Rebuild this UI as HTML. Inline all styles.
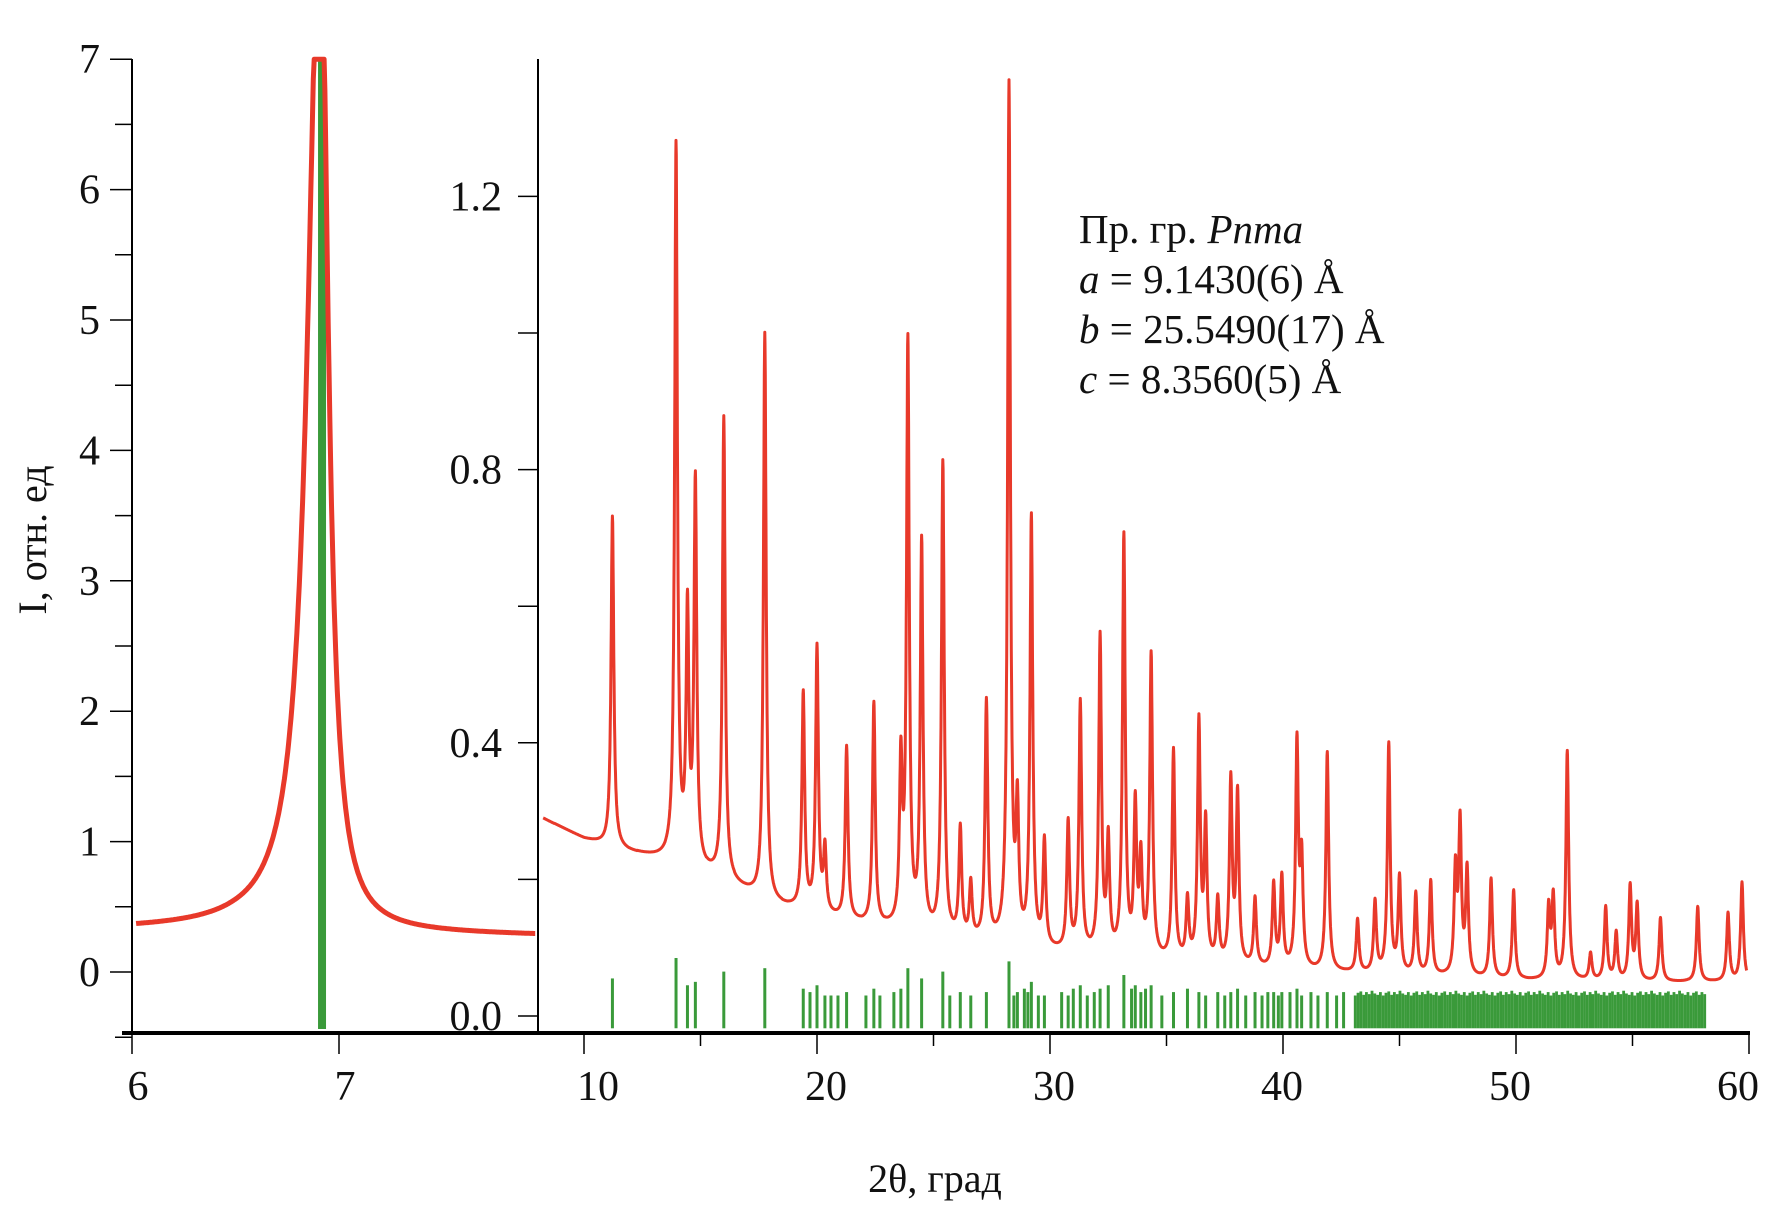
<!DOCTYPE html>
<html><head><meta charset="utf-8"><style>
html,body{margin:0;padding:0;background:#fff}
svg{display:block}
text{font-family:"Liberation Serif",serif;fill:#111}
</style></head><body>
<svg id="c" width="1775" height="1210" viewBox="0 0 1775 1210" xmlns="http://www.w3.org/2000/svg">
<g id="axes"></g>
<g id="plots"></g>
<text x="1079" y="243" font-size="41">Пр. гр. <tspan font-style="italic">Pnma</tspan></text>
<text x="1079" y="293" font-size="41"><tspan font-style="italic">a</tspan> = 9.1430(6) Å</text>
<text x="1079" y="343" font-size="41"><tspan font-style="italic">b</tspan> = 25.5490(17) Å</text>
<text x="1079" y="393" font-size="41"><tspan font-style="italic">c</tspan> = 8.3560(5) Å</text>
<text x="935" y="1192" font-size="40" text-anchor="middle">2θ, град</text>
<text transform="translate(46,540) rotate(-90)" font-size="40" text-anchor="middle">I, отн. ед</text>
</svg>
<script>
// ---- left panel data ----
const leftTicks = [0,1,2,3,4,5,6,7];
const leftXTicks = [6,7];
const leftPeakCenter = [6.91];
const leftPeakAmp = [8.0];
const leftBgX = [6.02,6.5,7.0,7.5,7.95];
const leftBgY = [0.32,0.32,0.30,0.29,0.28];
const leftRefPos = [6.918];
// ---- right panel data ----
const rightTicks = [0.0,0.4,0.8,1.2];
const rightXTicks = [10,20,30,40,50,60];
const bgX = [8.25,10,12,14,16,18,20,22,26,30,35,40,45,50,55,60];
const bgY = [0.29,0.26,0.24,0.225,0.2,0.165,0.15,0.135,0.112,0.095,0.08,0.068,0.06,0.053,0.05,0.05];
const peakPos = [11.22,13.95,14.44,14.78,16.0,17.76,19.41,20.0,20.34,21.27,22.44,23.6,23.9,24.49,25.4,26.15,26.6,27.27,28.24,28.6,29.2,29.76,30.78,31.3,32.15,32.5,33.17,33.66,33.9,34.34,35.3,35.9,36.39,36.68,37.2,37.76,38.05,38.8,39.6,39.95,40.6,40.8,41.9,43.2,43.95,44.54,45.0,45.7,46.34,47.4,47.6,47.9,48.93,49.9,51.4,51.6,52.2,53.2,53.85,54.3,54.9,55.2,56.2,57.8,59.1,59.7];
const peakTop = [0.732,1.27,0.58,0.774,0.874,0.999,0.47,0.536,0.24,0.393,0.456,0.36,0.977,0.686,0.807,0.27,0.19,0.456,1.358,0.29,0.724,0.25,0.28,0.456,0.55,0.25,0.697,0.30,0.22,0.524,0.386,0.166,0.426,0.276,0.166,0.34,0.32,0.17,0.19,0.2,0.396,0.22,0.385,0.14,0.166,0.396,0.2,0.178,0.196,0.208,0.276,0.21,0.2,0.183,0.155,0.17,0.386,0.09,0.158,0.12,0.188,0.16,0.143,0.16,0.15,0.195];
const refPos = [11.22,13.95,14.44,14.78,16.0,17.76,19.41,19.7,20.0,20.34,20.6,20.9,21.27,22.1,22.44,22.7,23.3,23.6,23.9,24.49,25.4,25.7,26.15,26.6,27.27,28.24,28.45,28.6,28.9,29.05,29.2,29.5,29.76,30.5,30.78,31.0,31.3,31.6,31.9,32.15,32.5,33.17,33.5,33.66,33.9,34.1,34.34,34.8,35.3,35.9,36.39,36.68,37.2,37.5,37.76,38.05,38.4,38.8,39.1,39.35,39.6,39.8,39.95,40.3,40.6,40.8,41.2,41.5,41.9,42.3,42.6];
const refTop = [0.055,0.085,0.045,0.05,0.065,0.07,0.04,0.035,0.045,0.03,0.03,0.03,0.035,0.03,0.04,0.03,0.035,0.04,0.07,0.055,0.065,0.03,0.035,0.03,0.035,0.08,0.03,0.035,0.04,0.035,0.05,0.03,0.03,0.035,0.03,0.04,0.045,0.03,0.035,0.04,0.045,0.06,0.04,0.045,0.035,0.04,0.045,0.03,0.035,0.04,0.035,0.03,0.035,0.03,0.035,0.04,0.03,0.035,0.03,0.035,0.035,0.03,0.035,0.035,0.04,0.03,0.035,0.03,0.035,0.03,0.035];
const denseStart = 43.1, denseEnd = 58.1; // dense reflection region (2θ)
const denseTop = [0.03,0.034,0.036,0.031,0.035,0.032,0.037,0.033,0.031,0.035];

const NS='http://www.w3.org/2000/svg';
const axes=document.getElementById('axes'), plots=document.getElementById('plots');
function mk(tag,attrs,parent){const e=document.createElementNS(NS,tag);for(const k in attrs)e.setAttribute(k,attrs[k]);parent.appendChild(e);return e;}
function interp(xs,ys,x){if(x<=xs[0])return ys[0];for(let i=1;i<xs.length;i++){if(x<=xs[i]){const t=(x-xs[i-1])/(xs[i]-xs[i-1]);return ys[i-1]+t*(ys[i]-ys[i-1]);}}return ys[ys.length-1];}

const lx=v=>132+(v-6)*207, ly=v=>972-v*130.4;
const rx=v=>584+(v-10)*23.3, ry=v=>1016-v*683;

let e;
e=mk('line',{x1:132,y1:59,x2:132,y2:1035,stroke:'#000','stroke-width':2},axes);

e=mk('line',{x1:538,y1:59,x2:538,y2:1033,stroke:'#000','stroke-width':2},axes);

e=mk('line',{x1:122,y1:1033,x2:1750,y2:1033,stroke:'#000','stroke-width':4},axes);


for(let v=-0.5;v<=7.001;v+=0.5){const y=ly(v);const major=Math.abs(v-Math.round(v))<1e-6;
 e=mk('line',{x1:major?110:115,y1:y,x2:132,y2:y,stroke:'#000','stroke-width':1.5},axes);
 }
leftTicks.forEach(v=>{e=mk('text',{x:100,y:ly(v)+14,'font-size':42,'text-anchor':'end'},axes);e.textContent=String(v);
 });
for(let v=0;v<=1.2001;v+=0.2){const y=ry(v);
 e=mk('line',{x1:518,y1:y,x2:538,y2:y,stroke:'#000','stroke-width':1.5},axes);
 }
rightTicks.forEach(v=>{e=mk('text',{x:502,y:ry(v)+14,'font-size':42,'text-anchor':'end'},axes);e.textContent=v.toFixed(1);
 });
leftXTicks.forEach(v=>{const x=lx(v);
 e=mk('line',{x1:x,y1:1033,x2:x,y2:1054,stroke:'#000','stroke-width':1.5},axes);
 
 e=mk('text',{x:x+6,y:1100,'font-size':42,'text-anchor':'middle'},axes);e.textContent=String(v);
 });
rightXTicks.forEach((v,i)=>{const x=rx(v);
 e=mk('line',{x1:x,y1:1033,x2:x,y2:1054,stroke:'#000','stroke-width':1.5},axes);
 
 e=mk('text',{x:x+14-i*5,y:1100,'font-size':42,'text-anchor':'middle'},axes);e.textContent=String(v);
 
 if(v<60){const xm=rx(v+5);
 e=mk('line',{x1:xm,y1:1033,x2:xm,y2:1046,stroke:'#000','stroke-width':1.5},axes);
 }});

let d='';
for(let x=6.02;x<=7.95;x+=0.004){let v=interp(leftBgX,leftBgY,x);
 leftPeakCenter.forEach((c,i)=>{const g=x<c?0.072:0.045;v+=leftPeakAmp[i]/(1+((x-c)/g)**2);});
 v=Math.min(v,7);d+=(d?'L':'M')+lx(x).toFixed(1)+','+ly(v).toFixed(1);}
leftRefPos.forEach(p=>{e=mk('line',{x1:lx(p),y1:ly(7),x2:lx(p),y2:1029,stroke:'#3a9a3a','stroke-width':8},plots);
 });
e=mk('path',{d:d,fill:'none',stroke:'#e8392a','stroke-width':5,'stroke-linejoin':'round'},plots);


const yb=ry(-0.018);
refPos.forEach((p,i)=>{e=mk('line',{x1:rx(p),y1:ry(refTop[i]),x2:rx(p),y2:yb,stroke:'#3a9a3a','stroke-width':3},plots);
 });
let k=0;for(let p=denseStart;p<=denseEnd;p+=0.12){const t=denseTop[k%denseTop.length];k++;
 e=mk('line',{x1:rx(p),y1:ry(t),x2:rx(p),y2:yb,stroke:'#3a9a3a','stroke-width':2.8},plots);
 }

const amps=peakPos.map((p,i)=>peakTop[i]-interp(bgX,bgY,p));
d='';
for(let x=8.25;x<=59.9;x+=0.01){let v=interp(bgX,bgY,x);
 for(let i=0;i<peakPos.length;i++){const dx=x-peakPos[i];if(Math.abs(dx)<2.5)v+=amps[i]/(1+(dx/0.07)**2);}
 d+=(d?'L':'M')+rx(x).toFixed(1)+','+ry(v).toFixed(1);}
e=mk('path',{d:d,fill:'none',stroke:'#e8392a','stroke-width':3,'stroke-linejoin':'round'},plots);

</script>
</body></html>
